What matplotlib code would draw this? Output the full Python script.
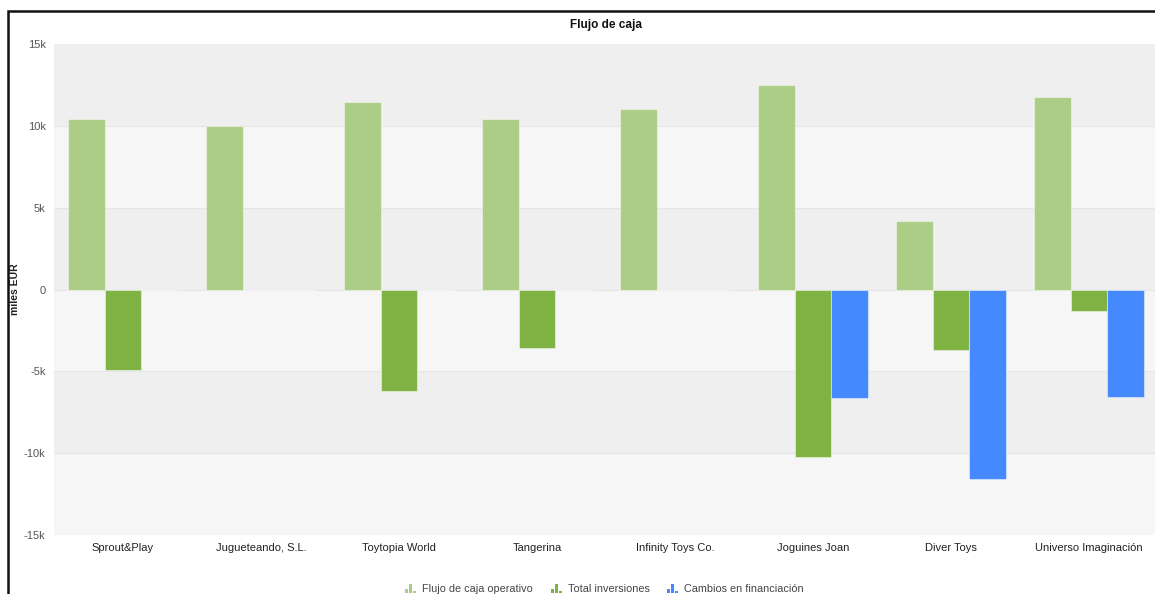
import numpy as np
import matplotlib
matplotlib.use("Agg")
import matplotlib.pyplot as plt
from matplotlib.patches import Rectangle

plt.rcParams['font.family'] = ['Liberation Sans', 'DejaVu Sans']

companies = ["Sprout&Play", "Jugueteando, S.L.", "Toytopia World", "Tangerina",
             "Infinity Toys Co.", "Joguines Joan", "Diver Toys", "Universo Imaginación"]
flujo_operativo = [10.43, 10.0, 11.43, 10.39, 11.04, 12.52, 4.19, 11.76]
total_inversiones = [-4.91, 0.0, -6.2, -3.6, 0.0, -10.25, -3.7, -1.31]
cambios_financiacion = [0.0, 0.0, 0.0, 0.0, 0.0, -6.6, -11.58, -6.55]
series_names = ["Flujo de caja operativo", "Total inversiones", "Cambios en financiación"]
y_ticks = [-15, -10, -5, 0, 5, 10, 15]
y_tick_labels = ["-15k", "-10k", "-5k", "0", "5k", "10k", "15k"]

colors = ["#abcd85", "#7eb243", "#4589ff"]

W, H = 1155, 594
fig = plt.figure(figsize=(W / 100, H / 100), dpi=100)
fig.patch.set_facecolor("white")

# outer frame
fig.patches.append(Rectangle((8 / W, -0.1), 1.2, 1 - 11 / H + 0.1, transform=fig.transFigure,
                             fill=False, edgecolor="#111111", linewidth=1.8, zorder=0))

left, right, top, bottom = 54, 1158, 44, 535
ax = fig.add_axes([left / W, 1 - bottom / H, (right - left) / W, (bottom - top) / H])
ax.set_xlim(-0.5, len(companies) - 0.5)
ax.set_ylim(-15, 15)

# alternating background bands with faint grid lines
for i in range(len(y_ticks) - 1):
    lo, hi = y_ticks[i], y_ticks[i + 1]
    ax.axhspan(lo, hi, color="#f6f6f6" if i % 2 == 0 else "#efefef", zorder=0, lw=0)
for t in y_ticks[1:-1]:
    ax.axhline(t, color="#e6e6e6", lw=0.8, zorder=0.5)

x = np.arange(len(companies))
bw = 0.268
for k, (vals, c) in enumerate(zip([flujo_operativo, total_inversiones, cambios_financiacion], colors)):
    ax.bar(x + (k - 1) * bw, vals, width=bw, color=c, edgecolor=(1, 1, 1, 0.45),
           linewidth=0.8, zorder=2)

for s in ax.spines.values():
    s.set_visible(False)
ax.set_yticks(y_ticks)
ax.set_yticklabels(y_tick_labels, fontsize=8, color="#555555")
ax.set_xticks(x)
ax.set_xticklabels(companies, fontsize=8, color="#222222")
ax.tick_params(axis="both", length=0)
ax.tick_params(axis="y", pad=6)
ax.tick_params(axis="x", pad=5.5)

fig.text(15.5 / W, 1 - 289 / H, "miles EUR", rotation=90, fontsize=7.5, fontweight="bold",
         ha="center", va="center", color="#222222")
fig.text(606 / W, 1 - 25 / H, "Flujo de caja", fontsize=8.5, fontweight="bold",
         ha="center", va="center", color="#111111")

# legend with small bar-chart icons
leg_x = [405, 551, 667]
for lx, name, c in zip(leg_x, series_names, colors):
    base = 593
    for dx, h in [(0, 4), (4, 9), (8, 2)]:
        fig.patches.append(Rectangle(((lx + dx) / W, 1 - base / H), 2.6 / W, h / H,
                                     transform=fig.transFigure, color=c, lw=0))
    fig.text((lx + 17) / W, 1 - 589 / H, name, fontsize=7.8, color="#444444",
             ha="left", va="center")

fig.savefig("out.png", dpi=100, facecolor="white")
